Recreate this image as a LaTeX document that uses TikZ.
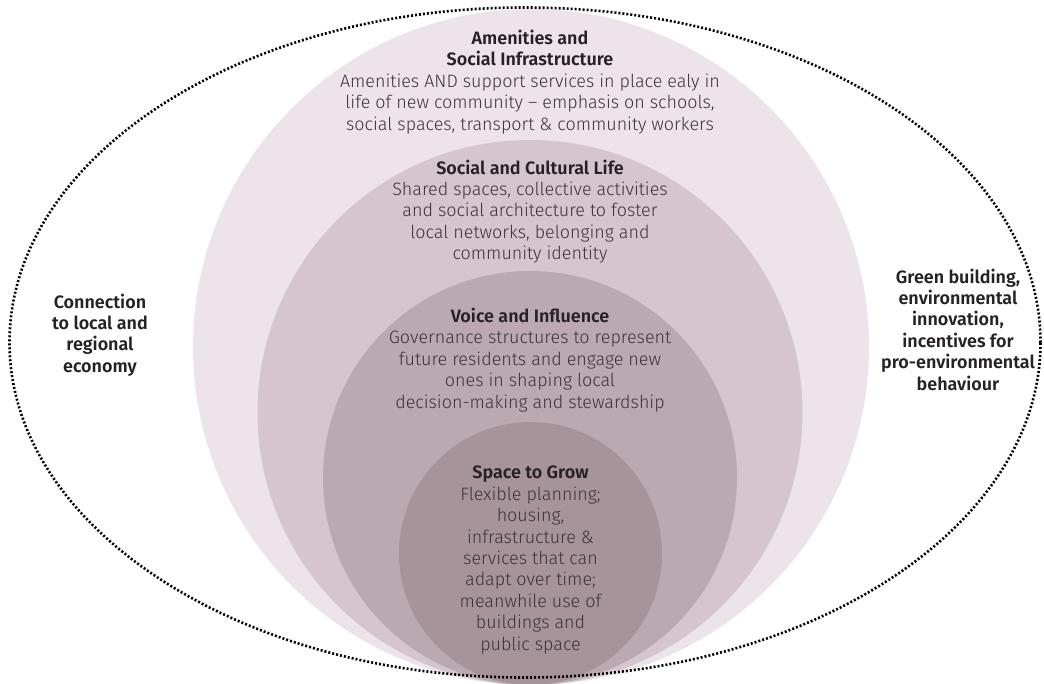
\documentclass[tikz,border=0pt]{standalone}
\usepackage{fontspec}
\setmainfont{Fira Sans Light}
\newfontfamily\headfont{Fira Sans SemiBold}
\usetikzlibrary{shapes.geometric}
\definecolor{ringA}{RGB}{237,227,234}
\definecolor{ringB}{RGB}{213,197,204}
\definecolor{ringC}{RGB}{187,169,177}
\definecolor{ringD}{RGB}{166,148,154}
\definecolor{headtxt}{RGB}{38,34,36}
\definecolor{bodytxt}{RGB}{58,52,55}
\newcommand{\hd}[1]{{\headfont\color{headtxt}#1}}

\begin{document}
\begin{tikzpicture}[x=1bp,y=-1bp,
    ring/.style={circle,inner sep=0pt,minimum size=#1},
    blurb/.style={align=center,inner sep=0pt,text=bodytxt,
      font=\fontsize{18}{21.5}\selectfont},
    side/.style={blurb,text=headtxt,font=\headfont\fontsize{18}{21.5}\selectfont},
    rim/.style={ellipse,draw=black,line width=2.6bp,dash pattern=on 2bp off 2bp,
      inner sep=0pt,minimum width=1031bp,minimum height=670bp}]
  \useasboundingbox (0,0) rectangle (1044,684);
  % nested rings, all touching at the bottom
  \node[ring=676bp,fill=ringA] (amen) at (531,347) {};
  \node[ring=545bp,fill=ringB] (social) at (530,412.5) {};
  \node[ring=414bp,fill=ringC] (voice) at (530,478) {};
  \node[ring=263bp,fill=ringD] (space) at (530.5,553.5) {};
  \node[rim] (outer) at (525,342.5) {};
  % ring texts
  \node[blurb] (amenTxt) at (530,82) {\hd{Amenities and}\\\hd{Social Infrastructure}\\
    Amenities AND support services in place ealy in\\
    life of new community – emphasis on schools,\\
    social spaces, transport \& community workers};
  \node[blurb] (socialTxt) at (530,211.5) {\hd{Social and Cultural Life}\\
    Shared spaces, collective activities\\and social architecture to foster\\
    local networks, belonging and\\community identity};
  \node[blurb] (voiceTxt) at (530,360) {\hd{Voice and Influence}\\
    Governance structures to represent\\future residents and engage new\\
    ones in shaping local\\decision-making and stewardship};
  \node[blurb] (spaceTxt) at (530.5,560) {\hd{Space to Grow}\\Flexible planning;\\housing,\\
    infrastructure \&\\services that can\\adapt over time;\\meanwhile use of\\
    buildings and\\public space};
  % outside the rings
  \node[side] (econ) at (100,335) {Connection\\to local and\\regional\\economy};
  \node[side] (green) at (958,329.5) {Green building,\\environmental\\innovation,\\
    incentives for\\pro-environmental\\behaviour};
\end{tikzpicture}
\end{document}
